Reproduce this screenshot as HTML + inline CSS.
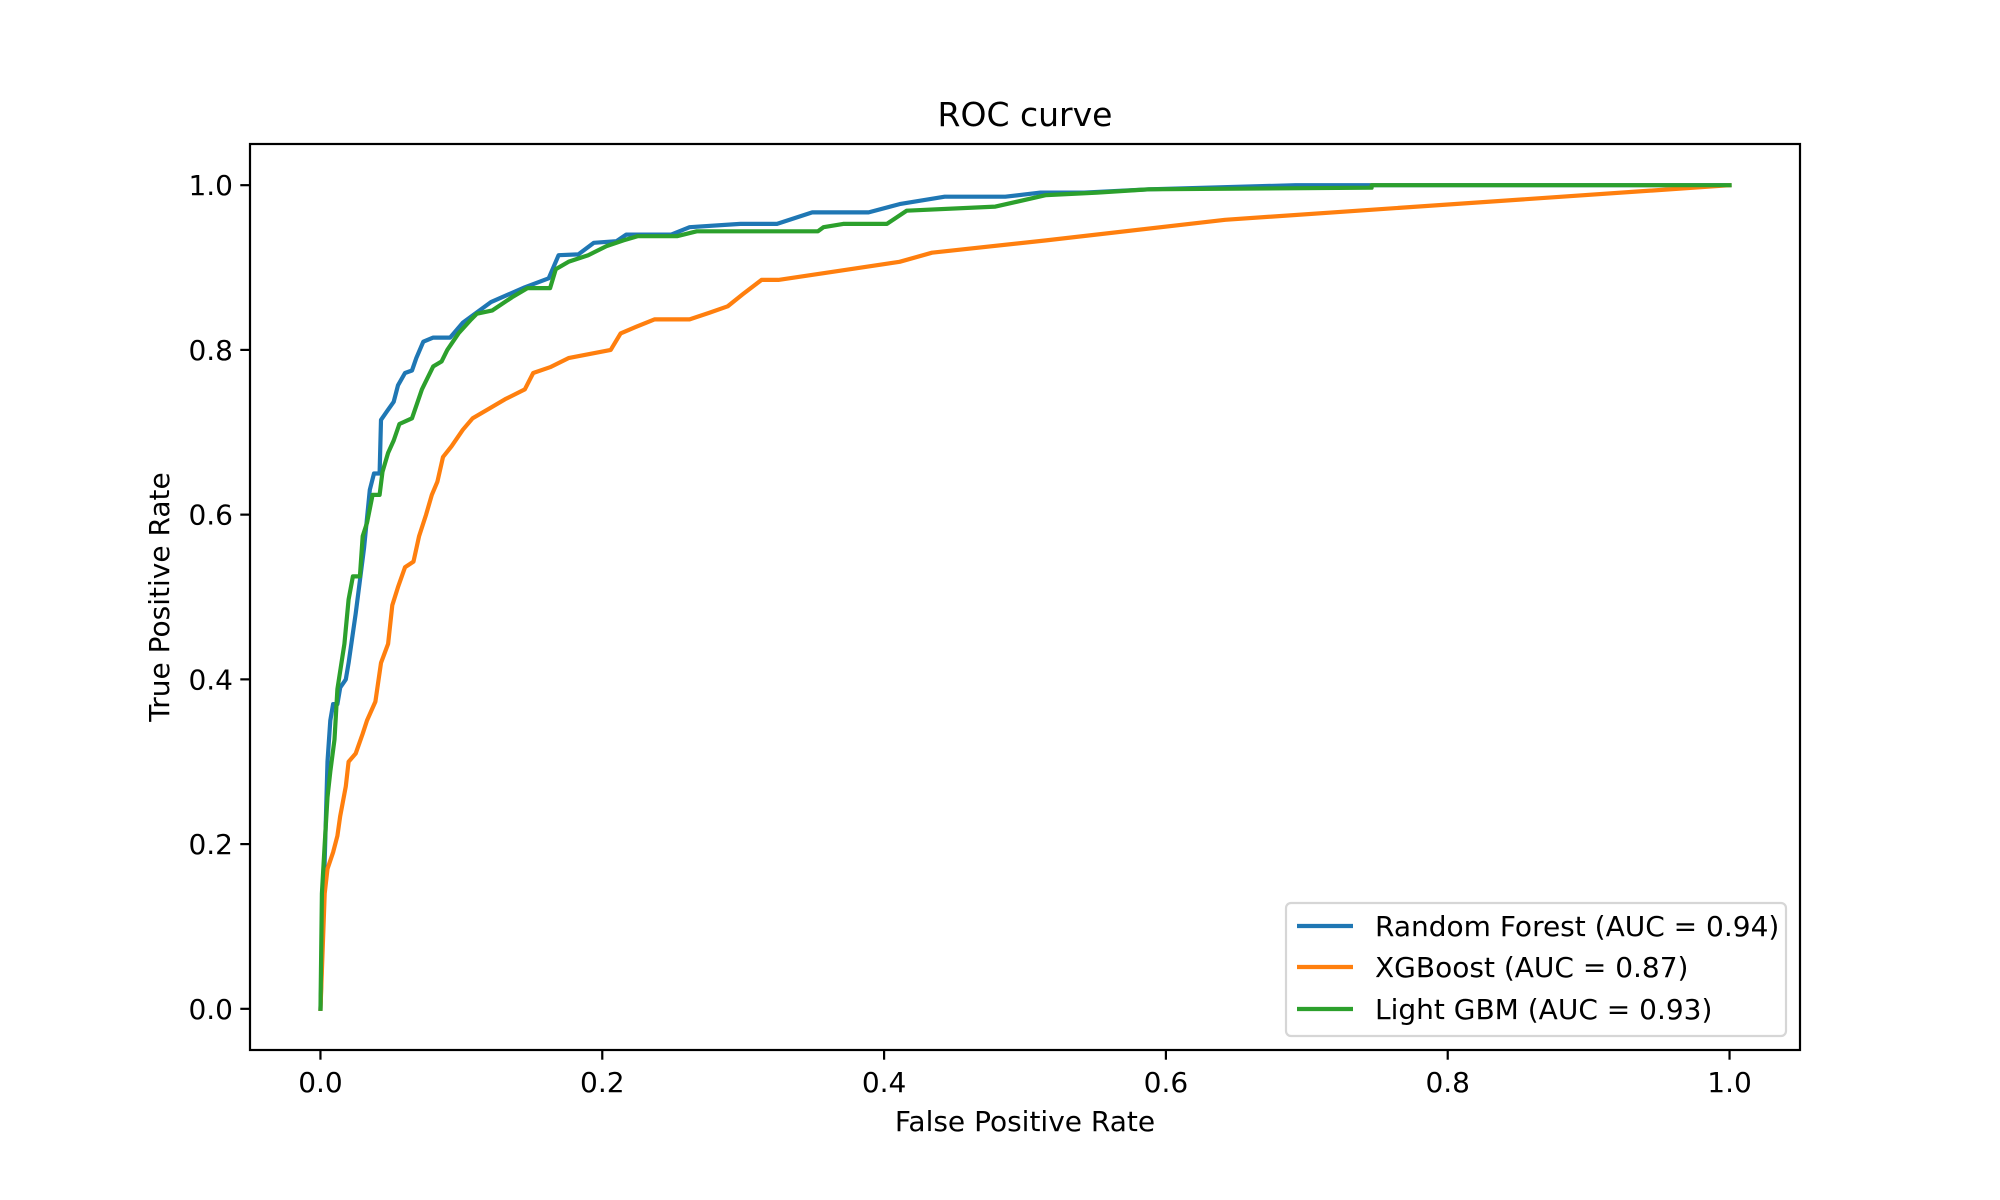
<!DOCTYPE html>
<html><head><meta charset="utf-8"><style>
html,body{margin:0;padding:0;background:#fff;}
svg{display:block;font-family:"DejaVu Sans","Liberation Sans",sans-serif;}
</style></head><body>
<svg id="chart" width="2000" height="1200" viewBox="0 0 2000 1200">
<rect x="0" y="0" width="2000" height="1200" fill="#fff"/>
<g id="plot"></g>
<g id="axes"></g>
<text x="1025" y="126" font-size="33" text-anchor="middle" fill="#000">ROC curve</text>
<text x="1025" y="1131" font-size="28" text-anchor="middle" fill="#000">False Positive Rate</text>
<text x="0" y="0" font-size="28" text-anchor="middle" fill="#000" transform="translate(169,597) rotate(-90)">True Positive Rate</text>
<g id="legend"></g>
</svg>
<script>
const xTicks = [0.0, 0.2, 0.4, 0.6, 0.8, 1.0];
const yTicks = [0.0, 0.2, 0.4, 0.6, 0.8, 1.0];
const seriesNames = ["Random Forest (AUC = 0.94)", "XGBoost (AUC = 0.87)", "Light GBM (AUC = 0.93)"];
const seriesColors = ["#1f77b4", "#ff7f0e", "#2ca02c"];
const rfX = [0,0.005,0.005,0.007,0.009,0.012,0.014,0.018,0.02,0.025,0.031,0.035,0.038,0.042,0.043,0.047,0.052,0.055,0.06,0.065,0.068,0.073,0.08,0.092,0.101,0.121,0.145,0.162,0.169,0.183,0.194,0.21,0.217,0.249,0.262,0.298,0.324,0.349,0.389,0.411,0.443,0.486,0.511,0.542,0.588,0.692,0.746,1.0];
const rfY = [0,0.3,0.3,0.35,0.37,0.37,0.39,0.40,0.42,0.48,0.56,0.63,0.65,0.65,0.715,0.725,0.737,0.757,0.772,0.775,0.79,0.81,0.815,0.815,0.833,0.858,0.876,0.887,0.915,0.916,0.93,0.932,0.94,0.94,0.949,0.953,0.953,0.967,0.967,0.977,0.986,0.986,0.991,0.991,0.995,1.0,1.0,1.0];
const xgX = [0,0.003,0.005,0.009,0.012,0.014,0.018,0.02,0.025,0.03,0.033,0.039,0.043,0.048,0.051,0.055,0.06,0.066,0.07,0.075,0.079,0.083,0.087,0.093,0.101,0.108,0.12,0.131,0.145,0.151,0.163,0.176,0.206,0.213,0.224,0.237,0.262,0.276,0.289,0.3,0.313,0.325,0.411,0.434,0.515,0.642,1.0];
const xgY = [0,0.14,0.17,0.19,0.21,0.234,0.27,0.3,0.31,0.334,0.35,0.373,0.42,0.443,0.49,0.512,0.536,0.543,0.574,0.6,0.624,0.64,0.67,0.683,0.703,0.717,0.729,0.74,0.752,0.772,0.779,0.79,0.8,0.82,0.828,0.837,0.837,0.845,0.853,0.868,0.885,0.885,0.907,0.918,0.933,0.958,1.0];
const lgX = [0,0.001,0.003,0.005,0.007,0.01,0.012,0.014,0.017,0.02,0.023,0.028,0.03,0.033,0.037,0.042,0.044,0.048,0.052,0.056,0.065,0.072,0.08,0.086,0.09,0.098,0.107,0.111,0.122,0.136,0.147,0.163,0.167,0.176,0.19,0.203,0.215,0.225,0.253,0.267,0.353,0.357,0.371,0.402,0.416,0.479,0.515,0.551,0.588,0.746,0.746,1.0];
const lgY = [0,0.14,0.2,0.257,0.288,0.327,0.388,0.41,0.443,0.497,0.525,0.525,0.574,0.59,0.624,0.624,0.652,0.675,0.69,0.71,0.717,0.752,0.78,0.786,0.8,0.82,0.837,0.844,0.848,0.864,0.875,0.875,0.898,0.907,0.915,0.926,0.933,0.938,0.938,0.944,0.944,0.949,0.953,0.953,0.969,0.974,0.988,0.991,0.995,0.997,1.0,1.0];
const seriesX = [rfX, xgX, lgX];
const seriesY = [rfY, xgY, lgY];

const NS = "http://www.w3.org/2000/svg";
const L = 250, R = 1800, T = 144, B = 1050;
const xMin = -0.05, xMax = 1.05, yMin = -0.05, yMax = 1.05;
function sx(v){ return L + (v - xMin) / (xMax - xMin) * (R - L); }
function sy(v){ return B - (v - yMin) / (yMax - yMin) * (B - T); }
function mk(tag, attrs, parent){ const e = document.createElementNS(NS, tag); for (const k in attrs) e.setAttribute(k, attrs[k]); parent.appendChild(e); return e; }

const plot = document.getElementById("plot");
const axes = document.getElementById("axes");
const legend = document.getElementById("legend");
const keys = ["random-forest", "xgboost", "light-gbm"];

for (let s = 0; s < 3; s++) {
  const pts = seriesX[s].map((x, i) => sx(x).toFixed(1) + "," + sy(seriesY[s][i]).toFixed(1)).join(" ");
  const pl = mk("polyline", {points: pts, fill: "none", stroke: seriesColors[s], "stroke-width": 4.2, "stroke-linejoin": "round", "stroke-linecap": "square"}, plot);
  
  
}

const frame = mk("rect", {x: L, y: T, width: R - L, height: B - T, fill: "none", stroke: "#000", "stroke-width": 2.2}, axes);



xTicks.forEach(v => {
  const x = sx(v);
  const t = mk("line", {x1: x, y1: B, x2: x, y2: B + 9.7, stroke: "#000", "stroke-width": 2.2}, axes);
  
  
  const lb = mk("text", {x: x, y: B + 42, "font-size": 28, "text-anchor": "middle", fill: "#000"}, axes);
  lb.textContent = v.toFixed(1);
  
  
});
yTicks.forEach(v => {
  const y = sy(v);
  const t = mk("line", {x1: L - 9.7, y1: y, x2: L, y2: y, stroke: "#000", "stroke-width": 2.2}, axes);
  
  
  const lb = mk("text", {x: L - 17, y: y + 10, "font-size": 28, "text-anchor": "end", fill: "#000"}, axes);
  lb.textContent = v.toFixed(1);
  
  
});

const box = mk("rect", {x: 1286, y: 903, width: 500, height: 133, rx: 5, fill: "#fff", "fill-opacity": 0.8, stroke: "#d6d6d6", "stroke-width": 2.2}, legend);


const rowsY = [926, 967, 1009];
for (let s = 0; s < 3; s++) {
  const ln = mk("line", {x1: 1297, y1: rowsY[s], x2: 1353, y2: rowsY[s], stroke: seriesColors[s], "stroke-width": 4.2}, legend);
  
  
  const tx = mk("text", {x: 1375, y: rowsY[s] + 10, "font-size": 28, fill: "#000"}, legend);
  tx.textContent = seriesNames[s];
  
  
}
</script>
</body></html>
